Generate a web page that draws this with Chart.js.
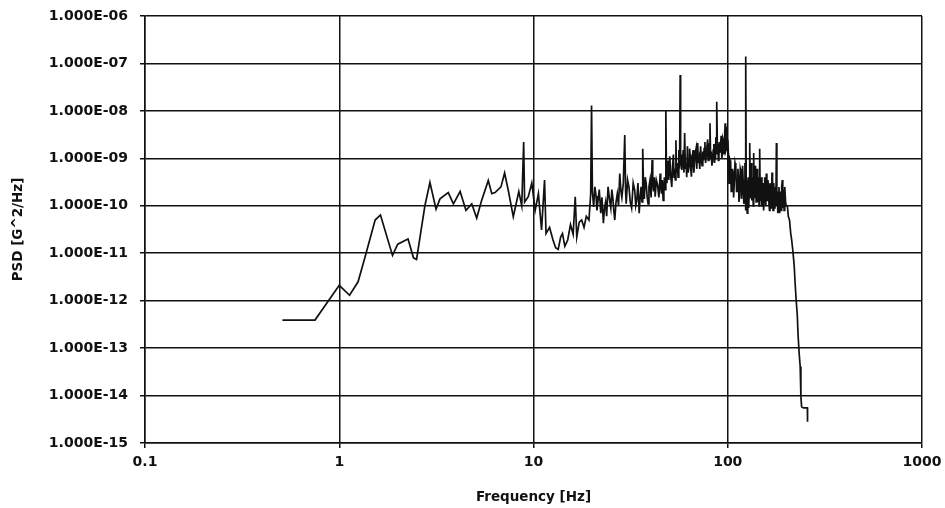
<!DOCTYPE html>
<html><head><meta charset="utf-8">
<script src="https://cdn.jsdelivr.net/npm/chart.js@4.4.0/dist/chart.umd.min.js"></script>
<style>html,body{margin:0;padding:0;background:#fff;} #wrap{width:945px;height:508px;}</style>
</head><body><div id="wrap"><canvas id="c" width="945" height="508"></canvas></div>
<script>
const freqHz = [
 0.51,0.75,1.0,1.13,1.25,1.36,1.53,1.63,1.88,2.0,2.26,2.41,2.5,2.76,2.93,3.15,3.3,3.64,3.87,4.19,4.49,4.81,5.1,5.41,5.85,6.1,6.34,6.8,7.1,7.4,7.87,8.4,8.7,8.9,9.0,9.4,9.8,10.2,10.6,11.0,11.4,11.6,12.1,12.6,13.0,13.4,13.8,14.1,14.5,15.0,15.5,16.0,16.4,16.7,17.2,17.7,18.2,18.7,19.3,19.7,19.9,
 20.1,20.4,20.7,21.0,21.2,21.5,21.8,22.2,22.5,22.9,23.2,23.5,23.8,24.2,24.6,25.0,25.3,25.6,25.9,26.2,26.6,27.0,27.4,27.8,28.2,28.5,29.0,29.5,29.8,30.0,30.5,31.0,31.5,32.0,32.6,33.2,33.6,34.0,34.5,35.0,35.4,35.8,36.2,36.5,36.8,37.2,37.6,38.0,38.5,38.9,39.3,39.8,40.3,40.8,41.1,41.5,41.9,42.3,42.9,43.5,44.2,44.9,45.2,45.6,46.0,46.5,46.9,47.2,47.6,
 48.0,48.3,48.6,49.2,49.7,50.3,50.9,51.5,52.0,52.5,52.9,53.3,53.7,54.1,54.5,55.0,55.5,56.0,56.5,56.9,57.2,57.5,58.0,58.5,59.0,59.5,60.0,60.5,61.0,61.5,62.0,62.6,63.2,63.6,64.0,64.5,65.0,65.6,66.3,66.9,67.5,68.1,68.7,69.3,70.0,70.6,71.2,71.8,72.5,73.1,73.8,74.4,75.0,75.6,76.3,76.9,77.5,78.1,78.8,79.4,80.0,80.5,81.0,81.6,82.3,82.9,83.5,84.2,84.8,85.4,86.0,86.5,87.0,87.5,88.0,88.5,89.0,89.5,90.0,90.5,91.0,91.7,92.5,93.2,94.0,94.5,95.0,95.5,96.0,96.5,97.0,97.5,98.0,98.5,99.0,99.5,100,
 101,101.5,102,102.8,103.5,104.2,105,105.7,106.5,107.2,108,109,110,111,112,112.8,113.5,114.2,115,116,117,117.8,118.5,119.2,120,121,122,122.6,123,123.5,124,124.5,125,125.5,126,126.8,127.5,128.2,129,129.5,130,130.7,131.5,132.3,133,133.8,134.5,135.3,136,136.8,137.5,138.3,139,140,141,141.8,142.5,143.3,144,145,146,147,148,149,150,151,152,153,154,155,156,157,158,159,160,161,162,163,164,165,166,167,168,169,170,171,172,173,174,175,176,177,178,179,180,181,182,183.5,185,186,187,188,189,190,191,192,193,194,195,196,197,198.5,200,
 203,205,208,211,213,216,218,220,222,225,228,230,233,236,238,240,245,257,257.5
];
const psd = [
 3.9e-13,3.9e-13,2.1e-12,1.3e-12,2.5e-12,8.5e-12,5e-11,6.4e-11,9e-12,1.55e-11,2.0e-11,8e-12,7.4e-12,1.0e-10,3.1e-10,8.5e-11,1.4e-10,1.9e-10,1.1e-10,2.0e-10,8e-11,1.1e-10,5.5e-11,1.3e-10,3.4e-10,1.8e-10,1.9e-10,2.5e-10,4.9e-10,2.2e-10,5.9e-11,2.0e-10,1.0e-10,2.2e-9,1.2e-10,1.55e-10,3.0e-10,8e-11,1.8e-10,3.1e-11,3.5e-10,2.6e-11,3.5e-11,1.9e-11,1.3e-11,1.2e-11,2.2e-11,2.6e-11,1.4e-11,1.9e-11,4e-11,2.5e-11,1.55e-10,2.2e-11,4.5e-11,5e-11,3.5e-11,6e-11,5e-11,1.8e-10,1.3e-8,
 2.0e-10,9.5e-11,2.5e-10,1.6e-10,8e-11,1.3e-10,2.2e-10,7e-11,1.5e-10,4.3e-11,9e-11,1.2e-10,6e-11,2.5e-10,1.4e-10,9e-11,2.2e-10,1.5e-10,8e-11,5e-11,1.2e-10,1.8e-10,1.0e-10,4.8e-10,2e-10,1.5e-10,3e-10,3.1e-9,2e-10,1.1e-10,3.5e-10,2.5e-10,1.2e-10,9e-11,3e-10,2.1e-10,1.0e-10,1.3e-10,3e-10,7e-11,1.5e-10,2.5e-10,1.2e-10,1.6e-9,3e-10,1.4e-10,4e-10,3e-10,1.5e-10,1.1e-10,2.5e-10,3.5e-10,1.5e-10,9.2e-10,3e-10,2.0e-10,4e-10,1.55e-10,3.5e-10,2.8e-10,1.5e-10,4.8e-10,2.5e-10,1.8e-10,3.5e-10,1.3e-10,2.5e-10,4e-10,2.2e-10,
 1.05e-8,8e-10,3e-10,9e-10,3.5e-10,1.1e-9,4e-10,2.5e-10,7e-10,1.2e-9,4e-10,6e-10,3.5e-10,2.4e-9,5e-10,8e-10,4e-10,1.5e-9,6e-10,5.7e-8,7e-10,1.2e-9,5.7e-10,9e-10,1.5e-9,5e-10,3.4e-9,6e-10,8e-10,4e-10,1.8e-9,5e-10,7e-10,1.6e-9,1.2e-9,6e-10,4.1e-10,9e-10,1.5e-9,5e-10,8e-10,1.3e-9,1.6e-9,6e-10,2.1e-9,8e-10,1.0e-9,6e-10,1.8e-9,9e-10,7e-10,1.4e-9,9e-10,1.6e-9,2.2e-9,8e-10,1.1e-9,1.7e-9,2.5e-9,9e-10,1.0e-9,2e-9,5.5e-9,1.1e-9,1.2e-9,7e-10,9e-10,1.5e-9,2.0e-9,8e-10,1.0e-9,1.8e-9,2.8e-9,1.2e-9,1.56e-8,1.4e-9,2.0e-9,9e-10,1.0e-9,2.2e-9,1.3e-9,1.8e-9,3.0e-9,1.0e-9,1.4e-9,2.6e-9,2.4e-9,1.2e-9,1.8e-9,3.5e-9,5.5e-9,1.4e-9,1.5e-9,3.2e-9,4.6e-9,1.5e-9,2.5e-9,
 1.07e-9,3e-10,4e-10,9e-10,8e-10,2e-10,2.5e-10,6e-10,5e-10,1.5e-10,3e-10,8e-10,6.6e-10,2e-10,2e-10,6e-10,4e-10,1.2e-10,1.55e-10,6e-10,5e-10,1.4e-10,2.2e-10,7e-10,3.5e-10,1.1e-10,1.6e-10,8e-10,5e-10,8e-11,1.4e-7,2e-10,3e-10,1.2e-10,7e-11,3e-10,4e-10,9e-11,2e-10,6e-10,2.1e-9,1.5e-10,3e-10,8e-10,1.3e-10,2.5e-10,4e-10,1.0e-10,1.3e-9,1.5e-10,2e-10,7e-10,5e-10,1.2e-10,2.5e-10,6e-10,1.2e-10,2e-10,4e-10,1.0e-10,1.6e-9,1.3e-10,2e-10,4e-10,9.5e-11,1.8e-10,3e-10,8e-11,1.5e-10,4e-10,2.5e-10,1.0e-10,4.8e-10,1.6e-10,1.3e-10,3.5e-10,2.5e-10,1.1e-10,8e-11,3e-10,2e-10,9e-11,1.2e-10,5e-10,3.5e-10,8e-11,1.5e-10,3e-10,9e-11,1.6e-10,2.5e-10,1.0e-10,2.1e-9,1.5e-10,2e-10,7e-11,1.1e-10,2.5e-10,7e-11,1.3e-10,2e-10,8e-11,1.2e-10,2.5e-10,3.5e-10,9e-11,1.5e-10,2.2e-10,8e-11,1.4e-10,2.5e-10,1.2e-10,1.0e-10,
 9.5e-11,6e-11,5e-11,2.6e-11,2e-11,1.2e-11,8e-12,5.2e-12,2.5e-12,1.03e-12,5e-13,2e-13,8e-14,4.1e-14,9.5e-15,5.8e-15,5.5e-15,5.5e-15,2.8e-15
];
const xTickValues = [0.1, 1, 10, 100, 1000];
const xTickLabels = ['0.1', '1', '10', '100', '1000'];
const yTickValues = [1e-15, 1e-14, 1e-13, 1e-12, 1e-11, 1e-10, 1e-9, 1e-8, 1e-7, 1e-6];
const yTickLabels = ['1.000E-15','1.000E-14','1.000E-13','1.000E-12','1.000E-11','1.000E-10','1.000E-09','1.000E-08','1.000E-07','1.000E-06'];

const ink = '#111';
const tickFont = {family: 'DejaVu Sans', weight: 'bold', size: 14};
const titleFont = {family: 'DejaVu Sans', weight: 'bold', size: 13.5};

new Chart(document.getElementById('c').getContext('2d'), {
  type: 'line',
  data: {datasets: [{
    data: freqHz.map((f, i) => ({x: f, y: psd[i]})),
    borderColor: ink, borderWidth: 1.7, pointRadius: 0, tension: 0, fill: false
  }]},
  options: {
    responsive: false, animation: false,
    layout: {padding: {left: 0, right: 23, top: 16, bottom: 0}},
    plugins: {legend: {display: false}, tooltip: {enabled: false}},
    scales: {
      x: {
        type: 'logarithmic', min: 0.1, max: 1000,
        afterBuildTicks: s => { s.ticks = xTickValues.map(v => ({value: v})); },
        afterFit: s => { s.height = 65; s.paddingLeft = 0; s.paddingRight = 0; },
        ticks: {callback: (v, i) => xTickLabels[i], font: tickFont, color: ink, padding: 6, maxRotation: 0, autoSkip: false},
        grid: {color: ink, lineWidth: 1.5, tickLength: 5},
        border: {color: ink, width: 1.5},
        title: {display: true, text: 'Frequency [Hz]', font: titleFont, color: ink, padding: {top: 2, bottom: 2}}
      },
      y: {
        type: 'logarithmic', min: 1e-15, max: 1e-6,
        afterBuildTicks: s => { s.ticks = yTickValues.map(v => ({value: v})); },
        afterFit: s => { s.width = 145; s.paddingTop = 0; s.paddingBottom = 0; },
        ticks: {callback: (v, i) => yTickLabels[i], font: tickFont, color: ink, padding: 12, autoSkip: false},
        grid: {color: ink, lineWidth: 1.5, tickLength: 5},
        border: {color: ink, width: 1.5},
        title: {display: true, text: 'PSD [G^2/Hz]', font: titleFont, color: ink, padding: {top: 10, bottom: 4}}
      }
    }
  }
});
</script></body></html>
